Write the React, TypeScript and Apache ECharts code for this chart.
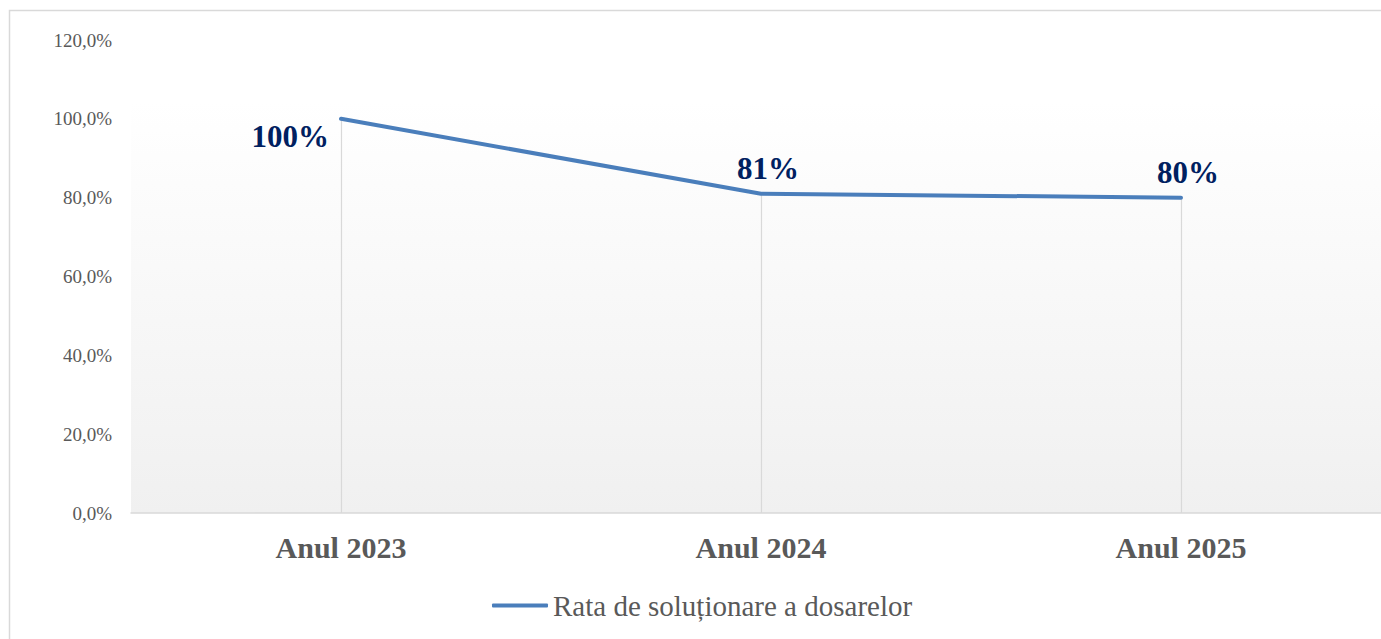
import React, { useEffect, useRef } from "react";
import * as echarts from "echarts";

const categories = ["Anul 2023", "Anul 2024", "Anul 2025"];
const rates = [100, 81, 80];
const seriesName = "Rata de soluționare a dosarelor";
const yMin = 0;
const yMax = 120;
const yStep = 20;

const FONT = '"Liberation Serif", "Times New Roman", serif';
const LINE_COLOR = "#4a7ebb";

export default function App() {
  const ref = useRef<HTMLDivElement>(null);
  useEffect(() => {
    if (!ref.current) return;
    const chart = echarts.init(ref.current, undefined, { renderer: "svg" });
    chart.setOption({
      animation: false,
      backgroundColor: "#ffffff",
      graphic: [
        {
          type: "rect",
          shape: { x: 9.5, y: 10.5, width: 1400, height: 700 },
          style: { fill: "none", stroke: "#d9d9d9", lineWidth: 1.5 },
          silent: true,
          z: 100,
        },
      ],
      grid: {
        left: 131,
        top: 40,
        width: 1260,
        bottom: 126,
        outerBoundsMode: "none",
        show: true,
        borderWidth: 0,
        backgroundColor: new echarts.graphic.LinearGradient(0, 0, 0, 1, [
          { offset: 0, color: "#ffffff" },
          { offset: 0.13, color: "#ffffff" },
          { offset: 1, color: "#f0f0f0" },
        ]),
      },
      legend: {
        left: 487,
        top: 586,
        itemWidth: 56,
        itemHeight: 4,
        itemGap: 10,
        data: [{ name: seriesName, icon: "roundRect" }],
        itemStyle: { color: LINE_COLOR },
        textStyle: { fontFamily: FONT, fontSize: 29, color: "#595959", padding: [0, 0, 0, 0] },
      },
      xAxis: {
        type: "category",
        data: categories,
        boundaryGap: true,
        axisLine: { show: true, lineStyle: { color: "#d9d9d9", width: 1.5 } },
        axisTick: { show: false },
        axisLabel: {
          margin: 19,
          fontFamily: FONT,
          fontSize: 30,
          fontWeight: "bold",
          color: "#595959",
        },
        splitLine: { show: false },
      },
      yAxis: {
        type: "value",
        min: yMin,
        max: yMax,
        interval: yStep,
        axisLine: { show: false },
        axisTick: { show: false },
        splitLine: { show: false },
        axisLabel: {
          margin: 19,
          fontFamily: FONT,
          fontSize: 19,
          color: "#595959",
          formatter: (v: number) => v.toFixed(1).replace(".", ",") + "%",
        },
      },
      series: [
        {
          name: seriesName,
          type: "line",
          data: rates.map((v, i) => ({
            value: v,
            label:
              i === 0
                ? { position: "left", offset: [-7, 18] }
                : { position: "top", offset: [7, -5] },
          })),
          symbol: "circle",
          symbolSize: 0,
          showSymbol: true,
          lineStyle: { color: LINE_COLOR, width: 4, cap: "round", join: "round" },
          itemStyle: { color: LINE_COLOR },
          z: 3,
          label: {
            show: true,
            distance: 5,
            fontFamily: FONT,
            fontSize: 31,
            fontWeight: "bold",
            color: "#002060",
            formatter: (p: any) => Math.round(p.value) + "%",
          },
          markLine: {
            silent: true,
            symbol: ["none", "none"],
            label: { show: false },
            lineStyle: { color: "#d9d9d9", width: 1.2, type: "solid" },
            z: 1,
            data: categories.map((c, i) => [
              { coord: [c, 0] },
              { coord: [c, rates[i]] },
            ]),
          },
        },
      ],
    });
    return () => chart.dispose();
  }, []);
  return (
    <div
      ref={ref}
      style={{ position: "fixed", left: 0, top: 0, width: 1381, height: 639 }}
    />
  );
}
